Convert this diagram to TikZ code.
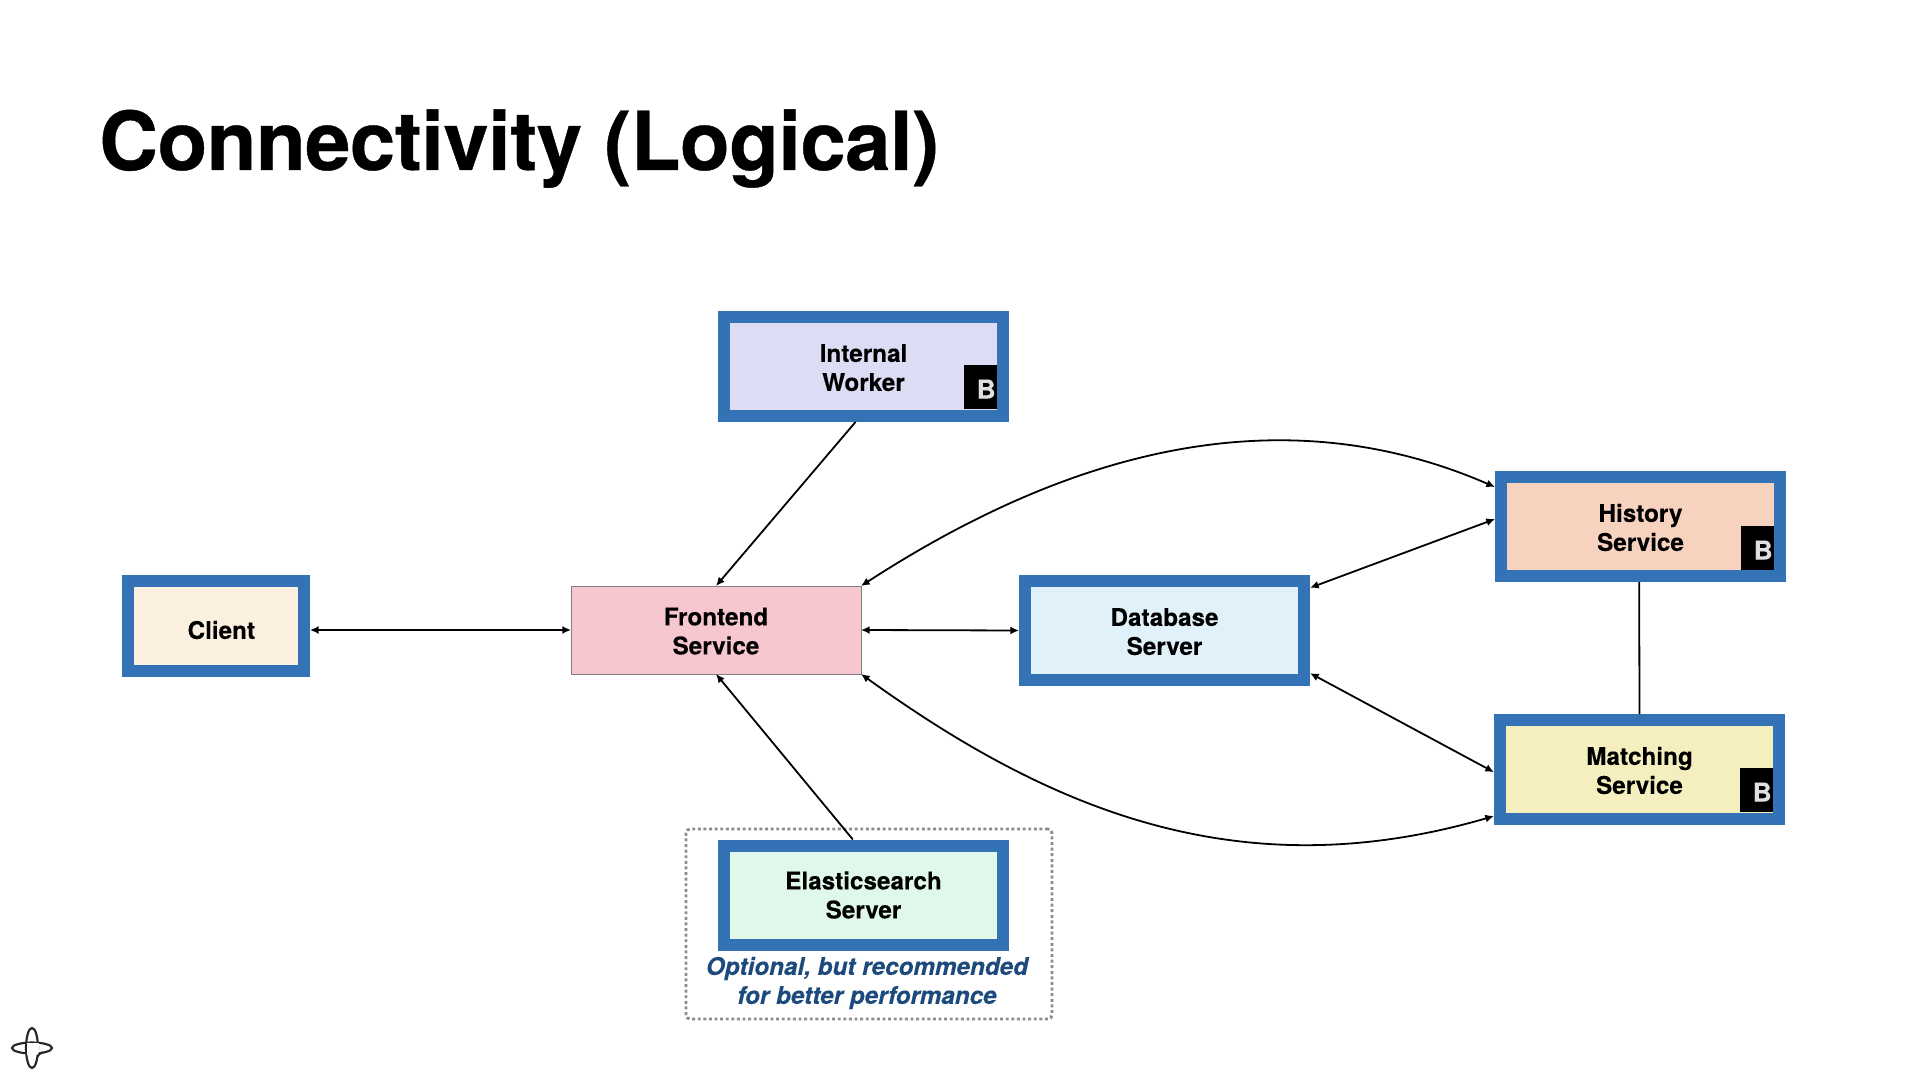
\documentclass[tikz,border=0pt]{standalone}
\usepackage{fontspec}
\setmainfont[BoldFeatures={FakeBold=0.2},BoldItalicFeatures={FakeBold=0.2}]{TeX Gyre Heros}
\newfontfamily\titlefont[LetterSpace=-0.6,BoldFeatures={FakeBold=0.5}]{TeX Gyre Heros}
\usetikzlibrary{arrows.meta}
\definecolor{bluebord}{HTML}{3373B5}
\definecolor{lav}{HTML}{DDDCF5}
\definecolor{pinkf}{HTML}{F6C7CE}
\definecolor{clientf}{HTML}{FBF0DF}
\definecolor{dbf}{HTML}{E1F1F9}
\definecolor{histf}{HTML}{F6D2BF}
\definecolor{matchf}{HTML}{F5EFC0}
\definecolor{esf}{HTML}{DFF8E9}
\definecolor{noteblue}{HTML}{1C4A7C}
\tikzset{
  lbl/.style={font=\fontsize{18.2}{21.75}\selectfont\bfseries,align=center,text=black},
  svc/.style={lbl,draw=bluebord,line width=9pt,minimum width=209.25pt,minimum height=74.25pt,inner sep=0pt},
  badge/.style={fill=black,text=black!12,minimum width=24.75pt,minimum height=32.5pt,inner sep=0pt,anchor=south east,font=\fontsize{19.5}{22}\selectfont\bfseries},
  conn/.style={line width=1.35pt,black},
  both/.style={conn,{Latex[length=6.5pt,width=6pt]}-{Latex[length=6.5pt,width=6pt]}},
  one/.style={conn,-{Latex[length=6.5pt,width=6pt]}},
}
\newcommand{\bmark}{\hspace*{9pt}\raisebox{-1.5pt}[\height][\depth]{B}}
\newcommand{\nudge}{\rule{0pt}{15pt}}
\begin{document}
\begin{tikzpicture}[x=0.75pt,y=-0.75pt]
\useasboundingbox (0,0) rectangle (1920,1080);
\node[anchor=base west,inner sep=0pt,font=\titlefont\fontsize{61}{66}\selectfont\bfseries] (title) at (99,170) {Connectivity (Logical)};
\node[draw=black!45,line width=2.2pt,dotted,rounded corners=3pt,minimum width=274.5pt,minimum height=142.5pt,inner sep=0pt,outer sep=0pt] (optbox) at (869,924) {};
\node[svc,fill=lav] (worker) at (863.5,366.5) {\nudge Internal\\Worker};
\node[svc,fill=histf] (history) at (1640.5,526.5) {\nudge History\\Service};
\node[svc,fill=matchf] (matching) at (1639.5,769.5) {\nudge Matching\\Service};
\node[svc,fill=esf] (elastic) at (863.5,895) {Elasticsearch\\Server};
\node[svc,fill=dbf] (db) at (1164.5,630.5) {\nudge Database\\Server};
\node[svc,fill=clientf,minimum width=132pt,minimum height=67.5pt] (client) at (216,626) {\hspace*{8pt}\raisebox{-3pt}[\height][\depth]{Client}};
\node[lbl,draw=black!50,line width=0.7pt,fill=pinkf,minimum width=217.5pt,minimum height=66pt,inner sep=0pt,outer sep=0pt] (frontend) at (716,630) {\nudge Frontend\\Service};
\node[badge] (bw) at (997,409) {\bmark};
\node[badge] (bh) at (1774,570) {\bmark};
\node[badge] (bm) at (1773,812) {\bmark};
\node[inner sep=0pt,text=noteblue,align=center,font=\fontsize{18.2}{21.75}\selectfont\bfseries\itshape] (note) at (867,983) {Optional, but recommended\\for better performance};
\draw[both] ([yshift=-3pt]client.east) -- (frontend.west);
\draw[both] (frontend.east) -- (db.west);
\draw[one] ([xshift=-6pt]worker.south) -- (frontend.north);
\draw[one] ([xshift=-8pt]elastic.north) -- (frontend.south);
\draw[both] (frontend.north east) .. controls (1040,470) and (1260,385) .. ([yshift=29.6pt]history.west);
\draw[both] (frontend.south east) .. controls (1050,810) and (1240,890) .. ([yshift=-34.9pt]matching.west);
\draw[both] ([yshift=32pt]db.east) -- ([yshift=5.6pt]history.west);
\draw[both] ([yshift=-32pt]db.east) -- ([yshift=-2pt]matching.west);
\draw[conn] ([xshift=-1pt]history.south) -- (matching.north);
\coordinate (logo) at (32,1048);
\draw[line width=1.6pt,black!85] (logo) ellipse (20 and 5.5);
\draw[line width=1.6pt,black!85] (logo) ellipse (6 and 20);
\fill[white] (27.2,1043.4) rectangle (38.8,1054.5);
\draw[line width=1.6pt,black!85] (43,1052.5) .. controls (40,1053.5) and (38,1054) .. (37.6,1056.5);
\end{tikzpicture}
\end{document}
